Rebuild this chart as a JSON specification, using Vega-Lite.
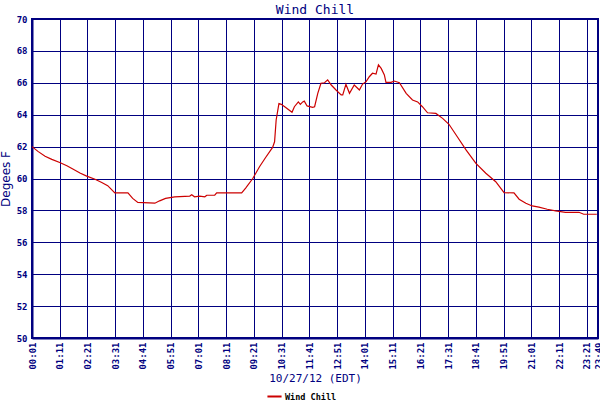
{
  "$schema": "https://vega.github.io/schema/vega-lite/v6.json",
  "width": 566,
  "height": 319,
  "autosize": "none",
  "padding": {"left": 32, "top": 19, "right": 2, "bottom": 62},
  "background": "white",
  "title": {"text": "Wind Chill", "font": "DejaVu Sans Mono", "fontSize": 13, "fontWeight": "normal", "color": "#000080", "offset": 3, "dy": 5, "anchor": "middle"},
  "config": {
    "view": {"stroke": "#000080", "strokeWidth": 2},
    "axis": {"domainColor": "#000080", "domainWidth": 2, "gridColor": "#000080", "gridOpacity": 1, "gridWidth": 1, "ticks": false, "labelColor": "#000080", "labelFont": "DejaVu Sans Mono", "labelFontWeight": "bold", "labelFontSize": 9, "titleColor": "#000080", "titleFont": "DejaVu Sans Mono", "titleFontWeight": "normal", "titleFontSize": 11}
  },
  "data": {"values": [
    {"time": "2012-10-27 00:01", "wc": 62.0},
    {"time": "2012-10-27 00:16", "wc": 61.7},
    {"time": "2012-10-27 00:34", "wc": 61.4},
    {"time": "2012-10-27 00:51", "wc": 61.2},
    {"time": "2012-10-27 01:11", "wc": 61.0},
    {"time": "2012-10-27 01:29", "wc": 60.8},
    {"time": "2012-10-27 01:44", "wc": 60.6},
    {"time": "2012-10-27 02:02", "wc": 60.35},
    {"time": "2012-10-27 02:19", "wc": 60.15},
    {"time": "2012-10-27 02:40", "wc": 59.95},
    {"time": "2012-10-27 02:57", "wc": 59.75},
    {"time": "2012-10-27 03:12", "wc": 59.55},
    {"time": "2012-10-27 03:30", "wc": 59.1},
    {"time": "2012-10-27 04:03", "wc": 59.1},
    {"time": "2012-10-27 04:15", "wc": 58.75},
    {"time": "2012-10-27 04:28", "wc": 58.5},
    {"time": "2012-10-27 05:11", "wc": 58.45},
    {"time": "2012-10-27 05:23", "wc": 58.6},
    {"time": "2012-10-27 05:38", "wc": 58.75},
    {"time": "2012-10-27 06:01", "wc": 58.85},
    {"time": "2012-10-27 06:39", "wc": 58.9},
    {"time": "2012-10-27 06:44", "wc": 58.98},
    {"time": "2012-10-27 06:51", "wc": 58.85},
    {"time": "2012-10-27 07:04", "wc": 58.9},
    {"time": "2012-10-27 07:17", "wc": 58.85},
    {"time": "2012-10-27 07:22", "wc": 58.95},
    {"time": "2012-10-27 07:42", "wc": 58.95},
    {"time": "2012-10-27 07:47", "wc": 59.1},
    {"time": "2012-10-27 08:50", "wc": 59.1},
    {"time": "2012-10-27 09:00", "wc": 59.4},
    {"time": "2012-10-27 09:18", "wc": 60.0},
    {"time": "2012-10-27 09:35", "wc": 60.74},
    {"time": "2012-10-27 09:50", "wc": 61.3},
    {"time": "2012-10-27 10:08", "wc": 61.95},
    {"time": "2012-10-27 10:13", "wc": 62.3},
    {"time": "2012-10-27 10:17", "wc": 63.67},
    {"time": "2012-10-27 10:24", "wc": 64.7},
    {"time": "2012-10-27 10:30", "wc": 64.65},
    {"time": "2012-10-27 10:42", "wc": 64.44},
    {"time": "2012-10-27 10:57", "wc": 64.15},
    {"time": "2012-10-27 11:03", "wc": 64.5},
    {"time": "2012-10-27 11:13", "wc": 64.8},
    {"time": "2012-10-27 11:18", "wc": 64.65},
    {"time": "2012-10-27 11:24", "wc": 64.8},
    {"time": "2012-10-27 11:28", "wc": 64.85},
    {"time": "2012-10-27 11:35", "wc": 64.55},
    {"time": "2012-10-27 11:49", "wc": 64.46},
    {"time": "2012-10-27 11:54", "wc": 64.5},
    {"time": "2012-10-27 12:02", "wc": 65.34},
    {"time": "2012-10-27 12:10", "wc": 65.97},
    {"time": "2012-10-27 12:19", "wc": 66.0},
    {"time": "2012-10-27 12:27", "wc": 66.18},
    {"time": "2012-10-27 12:36", "wc": 65.86},
    {"time": "2012-10-27 12:48", "wc": 65.55},
    {"time": "2012-10-27 13:01", "wc": 65.24},
    {"time": "2012-10-27 13:05", "wc": 65.24},
    {"time": "2012-10-27 13:13", "wc": 65.9},
    {"time": "2012-10-27 13:22", "wc": 65.34},
    {"time": "2012-10-27 13:34", "wc": 65.86},
    {"time": "2012-10-27 13:47", "wc": 65.55},
    {"time": "2012-10-27 13:55", "wc": 65.92},
    {"time": "2012-10-27 14:04", "wc": 66.07},
    {"time": "2012-10-27 14:12", "wc": 66.38},
    {"time": "2012-10-27 14:20", "wc": 66.6},
    {"time": "2012-10-27 14:29", "wc": 66.55},
    {"time": "2012-10-27 14:35", "wc": 67.12},
    {"time": "2012-10-27 14:42", "wc": 66.9},
    {"time": "2012-10-27 14:50", "wc": 66.49},
    {"time": "2012-10-27 14:54", "wc": 66.03},
    {"time": "2012-10-27 15:07", "wc": 66.03},
    {"time": "2012-10-27 15:15", "wc": 66.11},
    {"time": "2012-10-27 15:28", "wc": 66.0},
    {"time": "2012-10-27 15:45", "wc": 65.34},
    {"time": "2012-10-27 16:01", "wc": 64.92},
    {"time": "2012-10-27 16:14", "wc": 64.8},
    {"time": "2012-10-27 16:26", "wc": 64.5},
    {"time": "2012-10-27 16:39", "wc": 64.12},
    {"time": "2012-10-27 17:00", "wc": 64.08},
    {"time": "2012-10-27 17:17", "wc": 63.77},
    {"time": "2012-10-27 17:33", "wc": 63.4},
    {"time": "2012-10-27 17:54", "wc": 62.62},
    {"time": "2012-10-27 18:16", "wc": 61.79},
    {"time": "2012-10-27 18:41", "wc": 60.95},
    {"time": "2012-10-27 19:06", "wc": 60.33},
    {"time": "2012-10-27 19:31", "wc": 59.8},
    {"time": "2012-10-27 19:52", "wc": 59.11},
    {"time": "2012-10-27 20:17", "wc": 59.1},
    {"time": "2012-10-27 20:30", "wc": 58.7},
    {"time": "2012-10-27 20:47", "wc": 58.45},
    {"time": "2012-10-27 21:03", "wc": 58.28},
    {"time": "2012-10-27 21:20", "wc": 58.2},
    {"time": "2012-10-27 21:41", "wc": 58.07},
    {"time": "2012-10-27 22:02", "wc": 57.97},
    {"time": "2012-10-27 22:27", "wc": 57.88},
    {"time": "2012-10-27 23:01", "wc": 57.88},
    {"time": "2012-10-27 23:13", "wc": 57.76},
    {"time": "2012-10-27 23:46", "wc": 57.76}
  ]},
  "mark": {"type": "line", "strokeWidth": 1.2, "interpolate": "linear"},
  "encoding": {
    "x": {
      "field": "time", "type": "temporal",
      "title": "10/27/12 (EDT)",
      "scale": {"domain": [
        {"year": 2012, "month": 10, "date": 27, "hours": 0, "minutes": 1},
        {"year": 2012, "month": 10, "date": 27, "hours": 23, "minutes": 49}
      ]},
      "axis": {
        "format": "%H:%M",
        "labelAngle": 270, "labelAlign": "right", "labelBaseline": "middle", "labelPadding": 4,
        "labelOverlap": false, "labelFlush": false, "titlePadding": 3,
        "values": [
          {"year": 2012, "month": 10, "date": 27, "hours": 0, "minutes": 1},
          {"year": 2012, "month": 10, "date": 27, "hours": 1, "minutes": 11},
          {"year": 2012, "month": 10, "date": 27, "hours": 2, "minutes": 21},
          {"year": 2012, "month": 10, "date": 27, "hours": 3, "minutes": 31},
          {"year": 2012, "month": 10, "date": 27, "hours": 4, "minutes": 41},
          {"year": 2012, "month": 10, "date": 27, "hours": 5, "minutes": 51},
          {"year": 2012, "month": 10, "date": 27, "hours": 7, "minutes": 1},
          {"year": 2012, "month": 10, "date": 27, "hours": 8, "minutes": 11},
          {"year": 2012, "month": 10, "date": 27, "hours": 9, "minutes": 21},
          {"year": 2012, "month": 10, "date": 27, "hours": 10, "minutes": 31},
          {"year": 2012, "month": 10, "date": 27, "hours": 11, "minutes": 41},
          {"year": 2012, "month": 10, "date": 27, "hours": 12, "minutes": 51},
          {"year": 2012, "month": 10, "date": 27, "hours": 14, "minutes": 1},
          {"year": 2012, "month": 10, "date": 27, "hours": 15, "minutes": 11},
          {"year": 2012, "month": 10, "date": 27, "hours": 16, "minutes": 21},
          {"year": 2012, "month": 10, "date": 27, "hours": 17, "minutes": 31},
          {"year": 2012, "month": 10, "date": 27, "hours": 18, "minutes": 41},
          {"year": 2012, "month": 10, "date": 27, "hours": 19, "minutes": 51},
          {"year": 2012, "month": 10, "date": 27, "hours": 21, "minutes": 1},
          {"year": 2012, "month": 10, "date": 27, "hours": 22, "minutes": 11},
          {"year": 2012, "month": 10, "date": 27, "hours": 23, "minutes": 21},
          {"year": 2012, "month": 10, "date": 27, "hours": 23, "minutes": 49}
        ]
      }
    },
    "y": {
      "field": "wc", "type": "quantitative",
      "title": "Degees F",
      "scale": {"domain": [50, 70], "nice": false, "zero": false},
      "axis": {"values": [50, 52, 54, 56, 58, 60, 62, 64, 66, 68, 70], "labelPadding": 5, "titlePadding": 4, "titleFont": "DejaVu Sans", "titleFontSize": 12}
    },
    "color": {
      "datum": "Wind Chill",
      "scale": {"range": ["#cc0000"]},
      "legend": {"title": null, "orient": "none", "legendX": 234, "legendY": 369, "symbolType": "stroke", "symbolStrokeWidth": 2, "symbolSize": 200, "labelOffset": 2, "labelFont": "DejaVu Sans Mono", "labelFontWeight": "bold", "labelFontSize": 8.5, "labelColor": "#000000"}
    }
  }
}
